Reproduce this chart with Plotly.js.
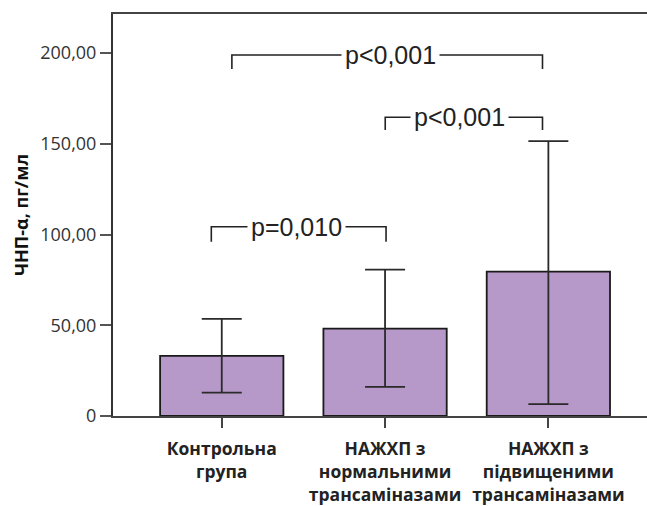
<!DOCTYPE html>
<html>
<head>
<meta charset="utf-8">
<script src="https://cdn.plot.ly/plotly-3.0.1.min.js"></script>
<style>html,body{margin:0;padding:0;background:#fff;}#chart{width:647px;height:506px;}</style>
</head>
<body>
<div id="chart"></div>
<script>
// Data
const categories = [0, 1, 2];
const categoryLabels = ["Контрольна<br>група", "НАЖХП з<br>нормальними<br>трансаміназами", "НАЖХП з<br>підвищеними<br>трансаміназами"];
const means = [33.1, 48.1, 79.6];
const errPlus = [20.4, 32.6, 71.8];
const errMinus = [20.2, 32.0, 73.1];
const yTickVals = [0, 50, 100, 150, 200];
const yTickText = ["0", "50,00", "100,00", "150,00", "200,00"];

// Significance brackets (x in category units, y in data units)
const bracketX = [[0.062, 0.062, 1.964, 1.964], [1.001, 1.001, 1.964, 1.964], [-0.064, -0.064, 1.006, 1.006]];
const bracketY = [[191.2, 198.9, 198.9, 191.2], [157.6, 164.6, 164.6, 157.6], [96.0, 104.3, 104.3, 96.0]];
const pLabels = ["p<0,001", "p<0,001", "p=0,010"];
const pLabelX = [1.032, 1.455, 0.455];

const traces = [{
  type: "bar",
  x: categories,
  y: means,
  width: 0.755,
  marker: {color: "#b699c9", line: {color: "#1a1a1a", width: 1.8}},
  error_y: {type: "data", symmetric: false, array: errPlus, arrayminus: errMinus,
            color: "#2a2a2a", thickness: 1.8, width: 20},
  hoverinfo: "none",
  showlegend: false
}];
bracketX.forEach((bx, i) => {
  traces.push({type: "scatter", mode: "lines", x: bx, y: bracketY[i],
    line: {color: "#222", width: 1.6}, showlegend: false, hoverinfo: "none"});
});

const annotations = pLabels.map((t, i) => ({
  x: pLabelX[i], y: bracketY[i][1], xref: "x", yref: "y", text: t, showarrow: false,
  font: {family: "Liberation Sans, Arial", size: 25, color: "#222"},
  bgcolor: "#ffffff", borderpad: 3, xanchor: "center", yanchor: "middle"
}));

const layout = {
  width: 647, height: 506,
  margin: {l: 113, r: 0, t: 14, b: 90},
  paper_bgcolor: "#fff", plot_bgcolor: "#fff",
  xaxis: {
    range: [-0.666, 2.604], tickvals: categories, ticktext: categoryLabels,
    showline: true, linecolor: "#444", linewidth: 2, mirror: true,
    ticks: "outside", ticklen: 10, tickwidth: 2, tickcolor: "#444",
    showgrid: false, zeroline: false, ticklabelstandoff: 6,
    tickfont: {family: "Open Sans", size: 17.5, color: "#222", weight: "bold"}
  },
  yaxis: {
    range: [0, 221.5], tickvals: yTickVals, ticktext: yTickText,
    showline: true, linecolor: "#333", linewidth: 2,
    ticks: "outside", ticklen: 11, tickwidth: 2, tickcolor: "#555",
    showgrid: false, zeroline: false,
    tickfont: {family: "Open Sans", size: 18, color: "#333"},
    title: {text: "ЧНП-α, пг/мл", standoff: 7,
            font: {family: "Open Sans", size: 18, color: "#111", weight: "bold"}}
  },
  annotations: annotations,
  bargap: 0.245
};

Plotly.newPlot("chart", traces, layout, {displayModeBar: false, staticPlot: true});
</script>
</body>
</html>
